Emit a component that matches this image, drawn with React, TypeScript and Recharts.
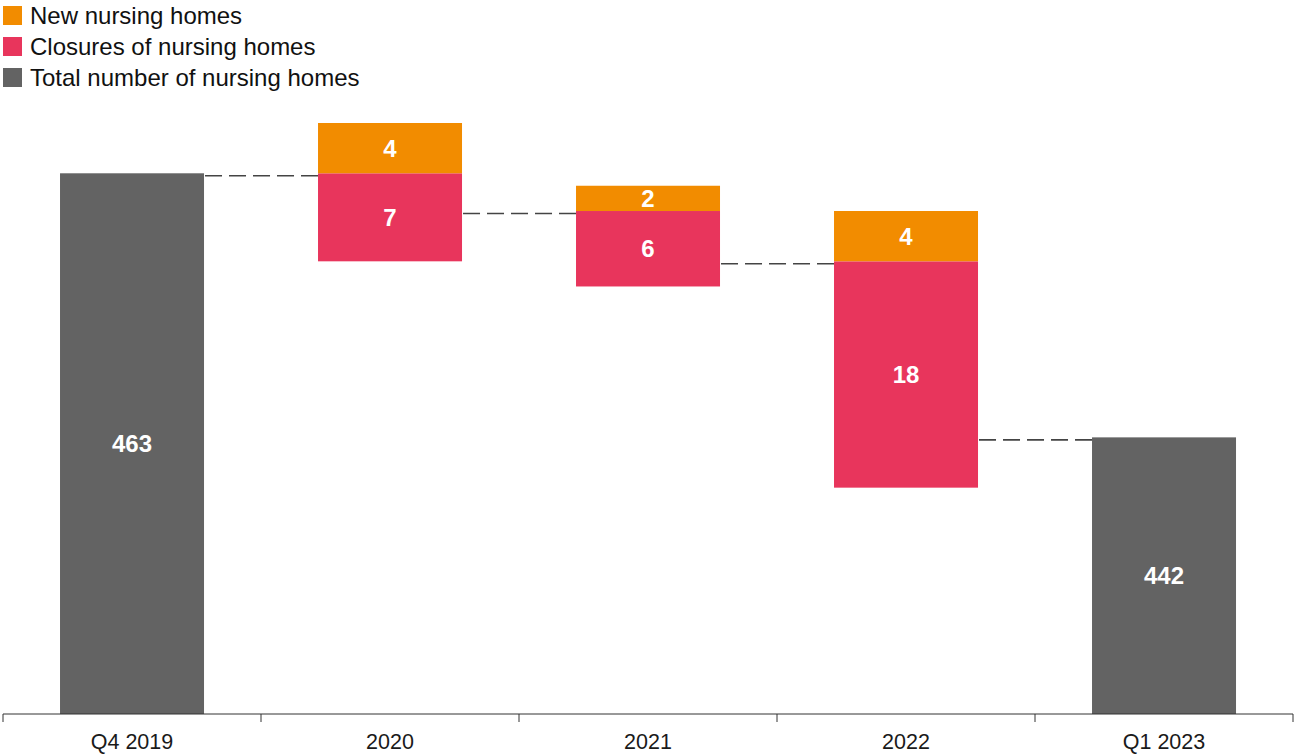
import { BarChart, Bar, XAxis, YAxis, Legend, LabelList } from "recharts";

const categories = ["Q4 2019", "2020", "2021", "2022", "Q1 2023"];
const totalHomes = [463, null, null, null, 442];
const newHomes = [0, 4, 2, 4, 0];
const closedHomes = [0, 7, 6, 18, 0];

const seriesNames = {
  added: "New nursing homes",
  closures: "Closures of nursing homes",
  total: "Total number of nursing homes",
};
const LEGEND_ORDER = ["added", "closures", "total"];

const Y_MIN = 420;
const Y_MAX = 467;
const GAP = 0.221;
const DASH_SHIFT = 2.5;

const ORANGE = "#f28c00";
const RED = "#e8355c";
const GREY = "#636363";
const FONT = "'Liberation Sans', Arial, Helvetica, sans-serif";

// running level for the waterfall; totals sit on the axis floor
let level = 0;
const data = categories.map((name, i) => {
  const total = totalHomes[i];
  if (total != null) {
    level = total;
    return { name, base: Y_MIN, closures: 0, added: 0, total: total - Y_MIN, totalLabel: total, end: total };
  }
  const start = level;
  level = start + newHomes[i] - closedHomes[i];
  return { name, base: start - closedHomes[i], closures: closedHomes[i], added: newHomes[i], total: 0, totalLabel: null, end: level };
});

const lastName = categories[categories.length - 1];

const connector = (xStart: number, yEnd: number, width: number) => {
  const gapPx = (width * 2 * GAP) / (1 - 2 * GAP);
  return (
    <line
      x1={xStart + 1}
      x2={xStart + gapPx}
      y1={yEnd}
      y2={yEnd}
      stroke="#444"
      strokeWidth={1.6}
      strokeDasharray="17 7"
    />
  );
};

const ClosureBar = (props: any) => {
  const { x, y, width, height, payload, fill } = props;
  if (!payload || !payload.closures) return <g />;
  const unit = height / payload.closures;
  const yEnd = y + (payload.closures - payload.added) * unit + DASH_SHIFT;
  return (
    <g>
      <rect x={x} y={y} width={width} height={height} fill={fill} />
      {connector(x + width, yEnd, width)}
    </g>
  );
};

const TotalBar = (props: any) => {
  const { x, y, width, height, payload, fill } = props;
  if (!payload || !payload.total) return <g />;
  return (
    <g>
      <rect x={x} y={y} width={width} height={height} fill={fill} />
      {payload.name !== lastName && connector(x + width, y + DASH_SHIFT, width)}
    </g>
  );
};

const CategoryTick = (props: any) => {
  const { x, y, payload, index, width, visibleTicksCount } = props;
  const band = width / visibleTicksCount;
  return (
    <g>
      <line x1={x - band / 2} x2={x - band / 2} y1={y} y2={y + 8} stroke="#333" />
      {index === visibleTicksCount - 1 && (
        <line x1={x + band / 2} x2={x + band / 2} y1={y} y2={y + 8} stroke="#333" />
      )}
      <text x={x} y={y + 35} textAnchor="middle" fontSize={21.5} fill="#1a1a1a" fontFamily={FONT}>
        {payload.value}
      </text>
    </g>
  );
};

const renderLegend = (props: any) => {
  const items = [...(props.payload || [])]
    .filter((p: any) => LEGEND_ORDER.includes(p.dataKey))
    .sort((a: any, b: any) => LEGEND_ORDER.indexOf(a.dataKey) - LEGEND_ORDER.indexOf(b.dataKey));
  return (
    <div style={{ height: 93 }}>
      {items.map((it: any) => (
        <div key={it.dataKey} style={{ display: "flex", alignItems: "center", height: 31 }}>
          <span style={{ width: 19, height: 19, background: it.color, marginLeft: 3, marginRight: 8 }} />
          <span style={{ fontSize: 24, color: "#111", fontFamily: FONT }}>{it.value}</span>
        </div>
      ))}
    </div>
  );
};

const labelStyle = { fill: "#fff", fontSize: 24, fontWeight: 700, fontFamily: FONT };

export default function App() {
  return (
    <div style={{ position: "absolute", left: 0, top: 0 }}>
      <BarChart
        width={1295}
        height={756}
        data={data}
        margin={{ top: 30, right: 2, left: 3, bottom: 0 }}
        barCategoryGap={`${GAP * 100}%`}
      >
        <XAxis
          dataKey="name"
          height={42}
          tickLine={false}
          tickSize={0}
          tickMargin={0}
          axisLine={{ stroke: "#333" }}
          tick={<CategoryTick />}
          interval={0}
        />
        <YAxis hide domain={[Y_MIN, Y_MAX]} allowDataOverflow type="number" />
        <Legend
          verticalAlign="top"
          align="left"
          layout="horizontal"
          wrapperStyle={{ top: 0, left: 0 }}
          content={renderLegend}
        />
        <Bar dataKey="base" stackId="w" fill="transparent" legendType="none" isAnimationActive={false} />
        <Bar
          dataKey="closures"
          stackId="w"
          name={seriesNames.closures}
          fill={RED}
          shape={<ClosureBar />}
          isAnimationActive={false}
        >
          <LabelList dataKey="closures" position="center" formatter={(v: any) => (v ? v : "")} {...labelStyle} />
        </Bar>
        <Bar dataKey="added" stackId="w" name={seriesNames.added} fill={ORANGE} isAnimationActive={false}>
          <LabelList dataKey="added" position="center" formatter={(v: any) => (v ? v : "")} {...labelStyle} />
        </Bar>
        <Bar
          dataKey="total"
          stackId="w"
          name={seriesNames.total}
          fill={GREY}
          shape={<TotalBar />}
          isAnimationActive={false}
        >
          <LabelList dataKey="totalLabel" position="center" {...labelStyle} />
        </Bar>
      </BarChart>
    </div>
  );
}
